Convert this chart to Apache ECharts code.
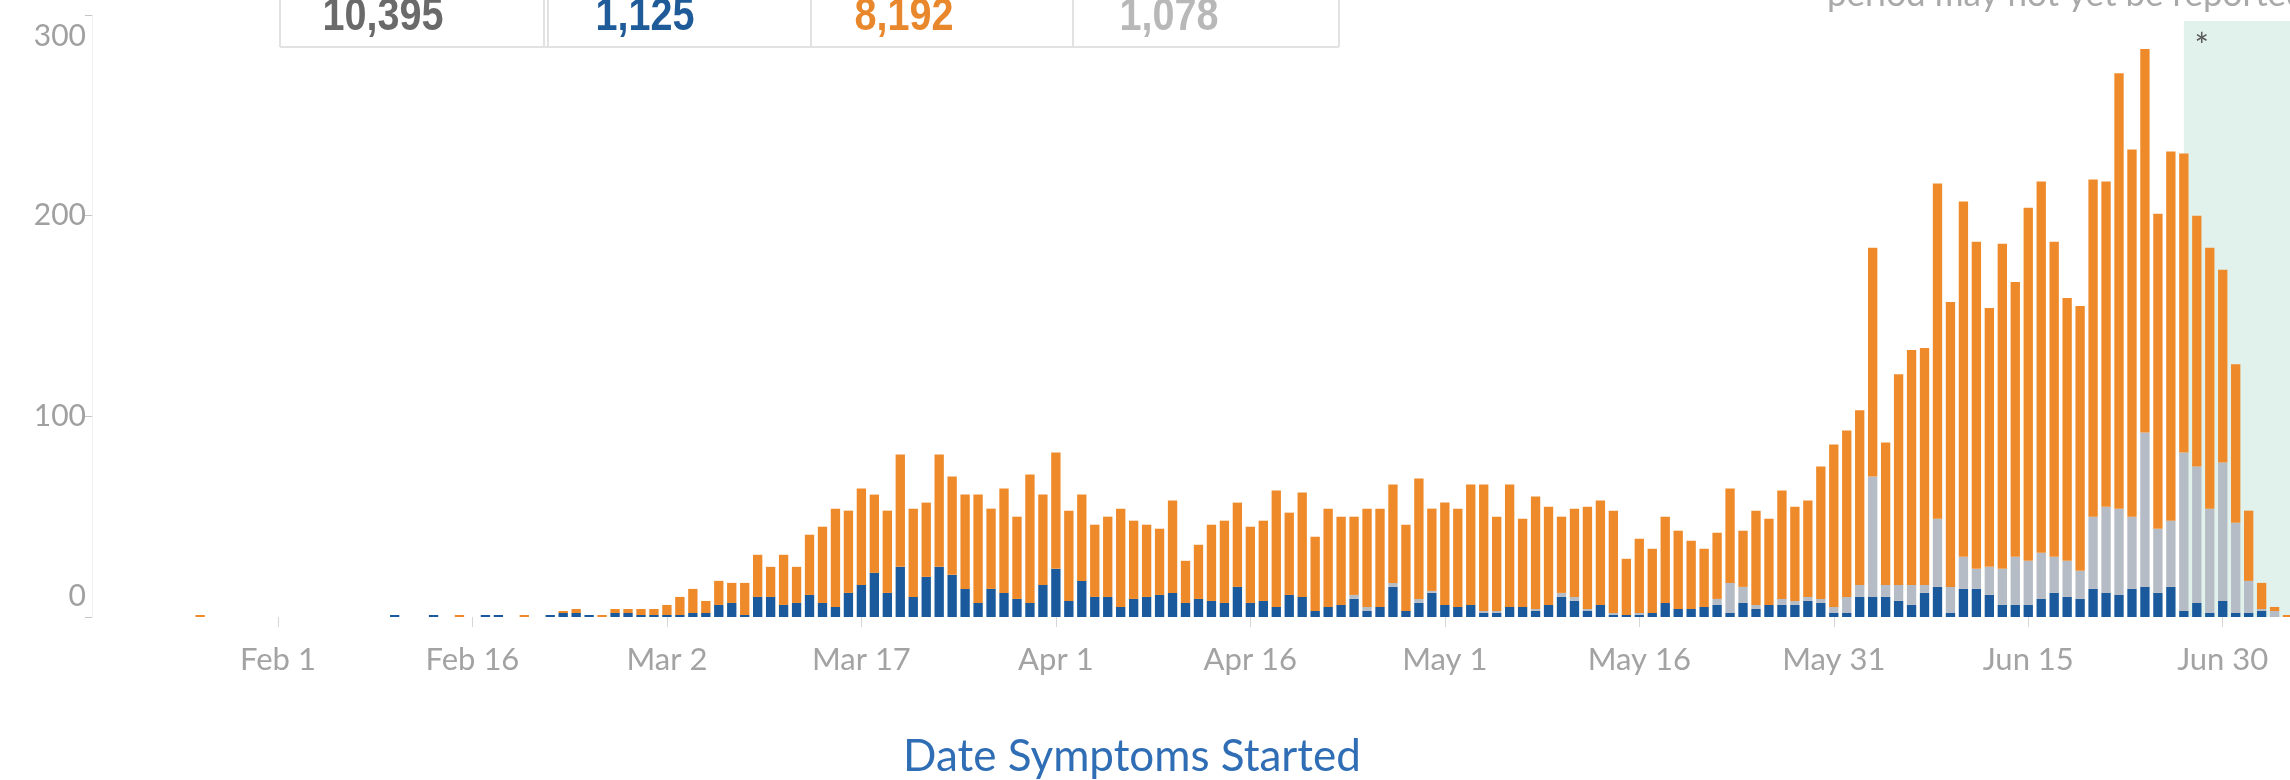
<!DOCTYPE html>
<html>
<head>
<meta charset="utf-8">
<script src="https://cdn.jsdelivr.net/npm/echarts@6/dist/echarts.min.js"></script>
<style>
html,body{margin:0;padding:0;background:#ffffff;}
#chart{width:2290px;height:780px;}
</style>
</head>
<body>
<div id="chart"></div>
<script>
// ---- categories (one per day, Date Symptoms Started) ----
const dates = [
  'Jan 17','Jan 18','Jan 19','Jan 20','Jan 21','Jan 22','Jan 23','Jan 24','Jan 25','Jan 26','Jan 27','Jan 28','Jan 29','Jan 30','Jan 31',
  'Feb 1','Feb 2','Feb 3','Feb 4','Feb 5','Feb 6','Feb 7','Feb 8','Feb 9','Feb 10','Feb 11','Feb 12','Feb 13','Feb 14','Feb 15','Feb 16','Feb 17','Feb 18','Feb 19','Feb 20','Feb 21','Feb 22','Feb 23','Feb 24','Feb 25','Feb 26','Feb 27','Feb 28','Feb 29',
  'Mar 1','Mar 2','Mar 3','Mar 4','Mar 5','Mar 6','Mar 7','Mar 8','Mar 9','Mar 10','Mar 11','Mar 12','Mar 13','Mar 14','Mar 15','Mar 16','Mar 17','Mar 18','Mar 19','Mar 20','Mar 21','Mar 22','Mar 23','Mar 24','Mar 25','Mar 26','Mar 27','Mar 28','Mar 29','Mar 30','Mar 31',
  'Apr 1','Apr 2','Apr 3','Apr 4','Apr 5','Apr 6','Apr 7','Apr 8','Apr 9','Apr 10','Apr 11','Apr 12','Apr 13','Apr 14','Apr 15','Apr 16','Apr 17','Apr 18','Apr 19','Apr 20','Apr 21','Apr 22','Apr 23','Apr 24','Apr 25','Apr 26','Apr 27','Apr 28','Apr 29','Apr 30',
  'May 1','May 2','May 3','May 4','May 5','May 6','May 7','May 8','May 9','May 10','May 11','May 12','May 13','May 14','May 15','May 16','May 17','May 18','May 19','May 20','May 21','May 22','May 23','May 24','May 25','May 26','May 27','May 28','May 29','May 30','May 31',
  'Jun 1','Jun 2','Jun 3','Jun 4','Jun 5','Jun 6','Jun 7','Jun 8','Jun 9','Jun 10','Jun 11','Jun 12','Jun 13','Jun 14','Jun 15','Jun 16','Jun 17','Jun 18','Jun 19','Jun 20','Jun 21','Jun 22','Jun 23','Jun 24','Jun 25','Jun 26','Jun 27','Jun 28','Jun 29','Jun 30',
  'Jul 1','Jul 2','Jul 3','Jul 4','Jul 5','Jul 6'
];

// ---- axis tick labels ----
const tickLabels = ['Feb 1','Feb 16','Mar 2','Mar 17','Apr 1','Apr 16','May 1','May 16','May 31','Jun 15','Jun 30'];
const yTicks = [0, 100, 200, 300];

// ---- series values (bottom to top: blue, gray, orange) ----
const blueValues = [
  0,0,0,0,0,0,0,0,0,0,0,0,0,0,0,
  0,0,0,0,0,0,0,0,0,1, 0,0,1,0,0,0,1,1,0,0, 0,1,2,2,1,0,2,2,1,
  1, 1,1,2,2,6,7,1,10,10,6, 7,11,7,5,12,16,22,12,25,10, 20,25,21,14,7,14,12,9,7,16,
  24,8,18,10,10,5,9,10,11,12, 7,9,8,7,15,7,8,5,11,10, 3,5,6,9,3,5,15,3,7,12,
  6,5,6,2,2,5,5,3,6,10, 8,3,6,1,1,1,2,7,4,4, 5,6,2,7,4,6,6,6,8,7, 2,
  2,10,10,10,8,6,12,15,2,14, 14,11,6,6,6,9,12,10,9,14, 12,11,14,15,12,15,3,7,2,8,
  2,2,3,0,0,0
];
const grayValues = [
  0,0,0,0,0,0,0,0,0,0,0,0,0,0,0,
  0,0,0,0,0,0,0,0,0,0, 0,0,0,0,0,0,0,0,0,0, 0,0,0,0,0,0,0,0,0,
  0, 0,0,0,0,0,0,0,0,0,0, 0,0,0,0,0,0,0,0,0,0, 0,0,0,0,0,0,0,0,0,0,
  0,0,0,0,0,0,0,0,0,0, 0,0,0,0,0,0,0,0,0,0, 0,0,0,2,2,0,2,0,2,1,
  0,0,0,1,1,0,0,1,0,2, 2,1,0,1,0,1,0,0,0,0, 0,3,15,8,2,0,3,2,2,2, 3,
  8,6,60,6,8,10,4,34,13,16, 10,14,18,24,22,23,18,18,14,36, 43,43,36,77,32,33,79,68,52,69,
  45,16,1,3,0,0
];
const orangeValues = [
  0,0,0,0,0,0,0,0,0,1,0,0,0,0,0,
  0,0,0,0,0,0,0,0,0,0, 0,0,0,0,1,0,0,0,0,1, 0,0,1,2,0,1,2,2,3,
  3, 5,9,12,6,12,10,16,21,15,25, 18,30,38,49,41,48,39,41,56,44, 37,56,49,47,54,40,52,41,64,45,
  58,45,43,36,40,49,39,36,33,46, 21,27,38,41,42,38,40,58,41,52, 37,49,44,39,49,49,49,43,60,41,
  51,49,60,63,47,61,44,56,49,38, 44,51,52,51,28,37,32,43,39,34, 29,33,47,28,47,43,54,47,48,66, 81,
  83,87,114,71,105,117,118,167,142,177, 163,129,162,137,176,185,157,131,132,168, 162,217,183,191,157,184,149,125,130,96,
  79,35,13,2,1,0
];

// ---- summary figures shown in the header table ----
const kpiLabels = ['10,395', '1,125', '8,192', '1,078'];
const kpiColors = ['#6a6a6a', '#1f5b98', '#e8872b', '#b8b8b8'];

// ---- shaded "may not yet be reported" period ----
const pendingStart = 'Jun 27';
const pendingEnd = 'Jul 6';
const pendingTop = 297;

const COL_BLUE = '#1a5a9c';
const COL_GRAY = '#b6bcc5';
const COL_ORANGE = '#ef8a2a';
const LABEL_FONT = 'Lato, "Open Sans", sans-serif';
const NUM_FONT = '"Liberation Sans", Arial, sans-serif';

const chart = echarts.init(document.getElementById('chart'), null, {renderer: 'canvas'});

function buildGraphics(extra) {
  const g = [];
  const kpiCenters = [383, 645, 904, 1169];
  [280, 544, 548, 811, 1073, 1339].forEach(function (x) {
    g.push({type: 'line', shape: {x1: x, y1: -10, x2: x, y2: 47}, style: {stroke: '#e2e2e2', lineWidth: 2}, silent: true});
  });
  g.push({type: 'line', shape: {x1: 280, y1: 47, x2: 1339, y2: 47}, style: {stroke: '#e2e2e2', lineWidth: 2}, silent: true});
  kpiLabels.forEach(function (t, i) {
    g.push({
      type: 'text', x: kpiCenters[i], y: 17, scaleX: 0.86, silent: true,
      style: {text: t, fill: kpiColors[i], font: 'bold 46px ' + NUM_FONT, align: 'center', verticalAlign: 'middle'}
    });
  });
  g.push({
    type: 'text', x: 1827, y: -5, silent: true,
    style: {text: 'period may not yet be reported', fill: '#a9a9a9', font: '35px ' + LABEL_FONT, align: 'left', verticalAlign: 'middle'}
  });
  g.push({
    type: 'text', x: 1132, y: 757, silent: true,
    style: {text: 'Date Symptoms Started', fill: '#2f6db5', font: '44px ' + LABEL_FONT, align: 'center', verticalAlign: 'middle'}
  });
  return g.concat(extra || []);
}

const option = {
  animation: false,
  backgroundColor: '#ffffff',
  grid: {left: 77, right: -17, top: 15, bottom: 163, containLabel: false, outerBoundsMode: 'none'},
  xAxis: {
    type: 'category',
    data: dates,
    boundaryGap: true,
    axisLine: {show: false},
    axisTick: {
      show: true, alignWithLabel: true, length: 10,
      interval: function (i, v) { return tickLabels.indexOf(v) >= 0; },
      lineStyle: {color: '#d6d6d6', width: 1}
    },
    axisLabel: {
      interval: function (i, v) { return tickLabels.indexOf(v) >= 0; },
      color: '#a3a3a3', fontSize: 31, fontFamily: LABEL_FONT, margin: 27
    },
    splitLine: {show: false}
  },
  yAxis: {
    type: 'value', min: 0, max: 300, interval: 100,
    offset: -15,
    splitLine: {show: false},
    axisLine: {show: true, lineStyle: {color: '#f1f1f1', width: 1}},
    axisTick: {show: true, length: 7, lineStyle: {color: '#c4c4c4'}},
    axisLabel: {
      color: '#a0a0a0', fontSize: 30, fontFamily: LABEL_FONT, margin: 6,
      formatter: function (v) {
        if (v === yTicks[yTicks.length - 1]) return '{top|' + v + '}';
        if (v === yTicks[0]) return '{bot|' + v + '}';
        return String(v);
      },
      rich: {
        top: {padding: [42, 0, 0, 0], color: '#a0a0a0', fontSize: 30, fontFamily: LABEL_FONT},
        bot: {padding: [0, 0, 42, 0], color: '#a0a0a0', fontSize: 30, fontFamily: LABEL_FONT}
      }
    }
  },
  series: [
    {name: 'Blue', type: 'bar', stack: 'cases', data: blueValues, barWidth: '72%', itemStyle: {color: COL_BLUE}, z: 3},
    {name: 'Gray', type: 'bar', stack: 'cases', data: grayValues, barWidth: '72%', itemStyle: {color: COL_GRAY}, z: 3},
    {name: 'Orange', type: 'bar', stack: 'cases', data: orangeValues, barWidth: '72%', itemStyle: {color: COL_ORANGE}, z: 3}
  ],
  graphic: {elements: buildGraphics()}
};

chart.setOption(option);

// shaded pending period, positioned through the axes
const x0 = chart.convertToPixel({xAxisIndex: 0}, pendingStart);
const x1 = chart.convertToPixel({xAxisIndex: 0}, pendingEnd);
const yTop = chart.convertToPixel({yAxisIndex: 0}, pendingTop);
const yBot = chart.convertToPixel({yAxisIndex: 0}, 0);
const shade = [
  {type: 'rect', z: -10, silent: true, shape: {x: x0, y: yTop, width: Math.max(x1, 2290) - x0, height: yBot - yTop}, style: {fill: '#e1f1eb'}},
  {type: 'text', z: -5, silent: true, x: x0 + 18, y: yTop + 26, style: {text: '*', fill: '#5a5a5a', font: '34px ' + LABEL_FONT, align: 'center', verticalAlign: 'middle'}}
];
chart.setOption({graphic: {elements: shade.concat(buildGraphics())}}, {replaceMerge: ['graphic']});
</script>
</body>
</html>
